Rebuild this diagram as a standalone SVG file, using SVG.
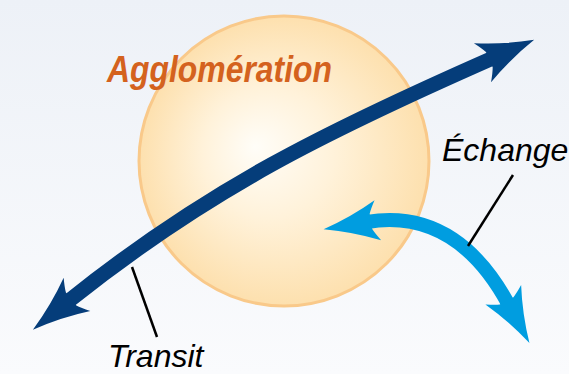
<svg xmlns="http://www.w3.org/2000/svg" width="569" height="374" viewBox="0 0 569 374">
  <defs>
    <linearGradient id="bg" x1="0" y1="0" x2="0" y2="1">
      <stop offset="0" stop-color="#edf1f7"/>
      <stop offset="1" stop-color="#fafbfd"/>
    </linearGradient>
    <radialGradient id="sun" cx="0.5" cy="0.5" r="0.5" fx="0.4" fy="0.45">
      <stop offset="0" stop-color="#fffdf8"/>
      <stop offset="0.45" stop-color="#fff2da"/>
      <stop offset="1" stop-color="#fde0ae"/>
    </radialGradient>
    <marker id="headDark" markerUnits="userSpaceOnUse" viewBox="-15 -25 65 50" markerWidth="65" markerHeight="50" refX="0" refY="0" orient="auto-start-reverse" overflow="visible">
      <path d="M45,0 Q15,8 -11.5,21.3 Q-6,13 -4,8.3 L-4,-8.3 Q-6,-13 -11.5,-21.3 Q15,-8 45,0 Z" fill="#053d7a"/>
    </marker>
    <marker id="headLight" markerUnits="userSpaceOnUse" viewBox="-15 -25 65 50" markerWidth="65" markerHeight="50" refX="0" refY="0" orient="auto-start-reverse" overflow="visible">
      <path d="M44,0 Q15,7.5 -11,20.3 Q-6,12.5 -4,7.8 L-4,-7.8 Q-6,-12.5 -11,-20.3 Q15,-7.5 44,0 Z" fill="#009de0"/>
    </marker>
    <style>
      .lbl { font-family: "Liberation Sans", Arial, sans-serif; font-style: italic; fill: #000; }
      .leader { stroke: #000; stroke-width: 2.5; fill: none; }
      .shaft { fill: none; stroke-linecap: butt; }
    </style>
  </defs>

  <rect x="0" y="0" width="569" height="374" fill="url(#bg)"/>

  <g id="agglomeration">
    <circle cx="284" cy="161" r="145" fill="url(#sun)" stroke="#f9c98a" stroke-width="3"/>
    <text x="107" y="81.5" font-family="Liberation Sans, Arial, sans-serif" font-weight="bold" font-style="italic" font-size="37" fill="#d4621e" textLength="225" lengthAdjust="spacingAndGlyphs">Agglomération</text>
  </g>

  <g id="connectors">
    <path id="transit-arrow" class="shaft" d="M68,301.5 C209,188.5 328.3,130.5 493,58" stroke="#053d7a" stroke-width="15" marker-start="url(#headDark)" marker-end="url(#headDark)"/>
    <path id="echange-arrow" class="shaft" d="M367,222 C436,210.6 480,251.7 508.5,304.4" stroke="#009de0" stroke-width="14" marker-start="url(#headLight)" marker-end="url(#headLight)"/>
  </g>

  <g id="echange">
    <line class="leader" x1="513" y1="175" x2="468" y2="246"/>
    <text class="lbl" x="442" y="161" font-size="32">Échange</text>
  </g>

  <g id="transit">
    <line class="leader" x1="132" y1="267" x2="157" y2="337"/>
    <text class="lbl" x="108" y="367" font-size="32">Transit</text>
  </g>
</svg>
